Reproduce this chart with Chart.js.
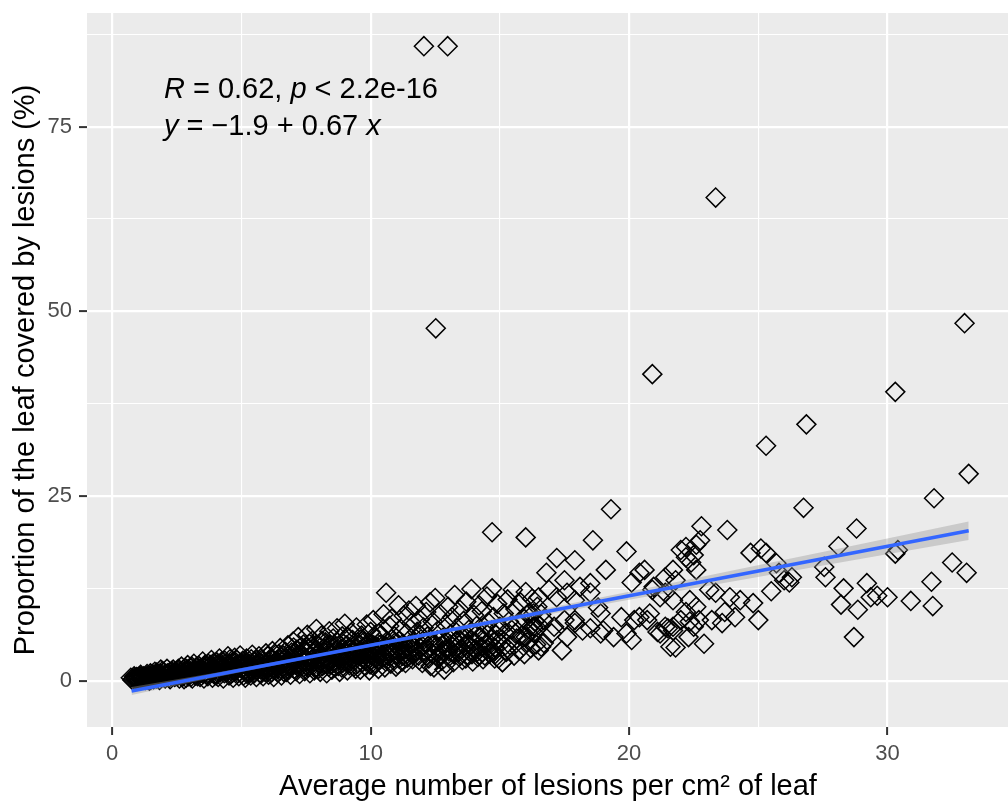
<!DOCTYPE html>
<html>
<head>
<meta charset="utf-8">
<script src="https://cdn.jsdelivr.net/npm/chart.js@4.4.1/dist/chart.umd.min.js"></script>
<style>
  html, body { margin: 0; padding: 0; background: #ffffff; overflow: hidden; }
  canvas { display: block; }
</style>
</head>
<body>
<canvas id="chart" width="1020" height="803"></canvas>
<script>
// values: x = lesions per cm2, y = % of leaf covered
const bandLow = [
  [0.72,0.4],[0.78,0.1],[0.82,0.3],[0.85,0.6],[0.9,0.2],[0.95,0.5],[0.98,0.0],[1.02,0.5],[1.05,0.1],[1.1,0.8],
  [1.14,0.2],[1.18,0.4],[1.22,0.6],[1.28,0.1],[1.32,0.6],[1.35,0.9],[1.4,0.4],[1.44,0.0],[1.48,1.0],[1.52,0.2],
  [1.55,0.9],[1.58,0.7],[1.62,0.4],[1.65,1.2],[1.7,0.3],[1.72,1.1],[1.76,0.9],[1.8,0.6],[1.83,0.1],[1.88,1.5],
  [1.92,0.6],[1.95,1.3],[2.0,1.1],[2.05,0.3],[2.08,0.6],[2.12,1.6],[2.15,1.0],[2.18,0.8],[2.24,0.2],[2.28,0.7],
  [2.3,1.3],[2.36,1.5],[2.4,1.1],[2.42,0.5],[2.5,1.0],[2.52,0.6],[2.56,1.6],[2.6,0.3],[2.64,1.2],[2.68,1.9],
  [2.72,0.5],[2.74,0.8],[2.8,1.3],[2.83,1.7],[2.86,0.4],[2.92,2.1],[2.95,0.6],[2.98,1.0],[3.02,1.3],[3.05,1.7],
  [3.1,0.3],[3.14,1.0],[3.16,2.3],[3.22,0.7],[3.25,1.8],[3.28,1.4],[3.32,0.9],[3.35,2.0],[3.4,0.5]
];
const bandMid = [
  [3.45,1.1],[3.48,1.5],[3.5,2.6],[3.55,0.3],[3.58,2.1],[3.6,1.7],[3.66,0.8],[3.7,0.6],[3.72,2.3],[3.78,1.3],
  [3.82,1.6],[3.84,2.8],[3.88,0.4],[3.92,2.4],[3.94,1.9],[4.0,1.0],[4.02,0.7],[4.05,2.5],[4.1,0.5],[4.12,1.9],
  [4.15,3.0],[4.2,1.5],[4.24,2.6],[4.26,2.1],[4.3,0.3],[4.34,1.0],[4.36,2.7],[4.42,1.2],[4.46,2.0],[4.48,3.3],
  [4.52,0.7],[4.56,2.9],[4.58,1.8],[4.62,2.4],[4.66,1.1],[4.68,0.4],[4.74,3.1],[4.78,2.5],[4.8,1.4],[4.85,2.2],
  [4.88,1.7],[4.9,0.6],[4.95,3.4],[4.98,2.1],[5.0,1.0],[5.05,2.7],[5.08,0.7],[5.1,1.8],[5.15,0.4],[5.18,2.4],
  [5.2,3.0],[5.25,1.3],[5.28,1.7],[5.3,2.3],[5.36,0.7],[5.38,2.9],[5.42,3.5],[5.48,1.6],[5.5,1.0],[5.52,2.6],
  [5.58,0.5],[5.6,1.4],[5.62,2.0],[5.68,3.3],[5.7,2.4],[5.72,1.1],[5.78,2.8],[5.82,1.9],[5.84,0.6],[5.9,1.7],
  [5.92,1.2],[5.95,3.7],[6.0,2.3],[6.02,3.3],[6.05,0.8],[6.1,1.4],[6.12,2.2],[6.15,3.1],[6.2,4.0],[6.22,1.6],
  [6.25,0.5],[6.3,2.0],[6.32,3.5],[6.35,2.7],[6.4,1.1]
];
const bandHigh = [
  [6.45,3.6],[6.48,1.4],[6.5,4.4],[6.55,0.7],[6.58,2.5],[6.6,1.8],[6.65,2.9],[6.68,1.7],[6.7,3.9],[6.75,1.2],
  [6.78,3.3],[6.8,4.8],[6.85,2.4],[6.88,1.9],[6.9,0.8],[6.95,3.3],[6.98,2.6],[7.0,5.3],[7.05,1.6],[7.08,3.8],
  [7.1,2.7],[7.15,4.2],[7.18,1.9],[7.2,5.9],[7.25,0.9],[7.28,3.1],[7.3,3.6],[7.35,2.1],[7.38,2.6],[7.4,4.9],
  [7.45,1.3],[7.48,4.1],[7.5,3.0],[7.55,6.2],[7.58,1.8],[7.6,4.4],[7.65,1.0],[7.68,3.3],[7.7,2.5],[7.75,5.4],
  [7.78,2.1],[7.8,3.7],[7.85,1.7],[7.88,4.2],[7.9,7.0],[7.95,2.9],[7.98,1.6],[8.0,4.7],[8.05,1.2],[8.08,2.7],
  [8.1,6.1],[8.15,3.4],[8.18,4.4],[8.2,2.2],[8.25,5.2],[8.28,3.0],[8.3,1.0],[8.35,4.0],[8.38,1.9],[8.4,6.7],
  [8.45,2.7],[8.48,3.6],[8.5,1.5],[8.55,5.7],[8.58,2.4],[8.6,3.2],[8.65,4.6],[8.68,4.1],[8.7,7.1],[8.75,2.0],
  [8.78,2.9],[8.8,1.2],[8.85,3.8],[8.88,1.8],[8.9,6.0],[8.95,5.0],[8.98,3.4],[9.0,7.7],[9.05,2.6],[9.08,4.8],
  [9.1,1.4],[9.15,4.4],[9.18,2.1],[9.2,3.1],[9.25,6.5],[9.28,3.9],[9.3,5.5],[9.35,1.9],[9.38,2.8],[9.4,3.6],
  [9.45,7.2],[9.48,4.4],[9.5,2.3],[9.55,4.9],[9.58,3.3],[9.6,1.5],[9.65,6.1],[9.68,2.5],[9.7,3.0],[9.75,5.3],
  [9.78,4.5],[9.8,2.0],[9.85,7.6],[9.88,3.1],[9.9,4.1],[9.95,1.4],[9.98,2.2],[10.0,6.6],[10.05,3.4],[10.08,4.0],
  [10.1,8.2],[10.15,2.4],[10.18,3.0],[10.2,5.7],[10.25,4.6],[10.28,5.0],[10.3,1.6]
];
// further passes over the dark band, where the diamonds overlap into solid black
const bandFill = [
  [0.88,0.4],[1.0,0.3],[1.12,0.5],[1.25,0.3],[1.38,0.2],[1.5,0.6],[1.6,0.2],[1.68,0.8],[1.78,0.4],[1.86,1.0],
  [1.98,0.5],[2.1,0.9],[2.2,0.4],[2.33,1.0],[2.46,0.8],[2.58,1.3],[2.7,1.0],[2.78,0.2],[2.9,1.5],[3.0,0.8],
  [3.08,1.9],[3.2,1.2],[3.3,0.6],[3.38,1.6],
  [3.52,0.9],[3.62,1.2],[3.75,1.9],[3.86,1.1],[3.97,1.5],[4.07,2.2],[4.18,1.1],[4.28,1.7],[4.4,2.3],[4.5,1.4],
  [4.6,0.9],[4.72,1.9],[4.82,2.8],[4.92,1.2],[5.02,1.6],[5.12,2.2],[5.22,0.9],[5.32,2.0],[5.44,1.3],[5.55,2.2],
  [5.65,1.7],[5.75,0.9],[5.86,2.4],[5.97,1.5],[6.07,2.7],[6.17,1.1],[6.27,2.4],[6.38,1.8],
  [6.52,2.1],[6.62,3.4],[6.72,2.2],[6.82,1.5],[6.92,2.9],[7.02,4.5],[7.12,1.3],[7.22,2.4],[7.32,4.6],[7.42,3.3],
  [7.52,2.0],[7.62,5.0],[7.72,2.8],[7.82,1.4],[7.92,3.6],[8.02,2.4],[8.12,5.4],[8.22,3.8],[8.32,2.3],[8.42,4.9],
  [8.52,3.0],[8.62,1.8],[8.72,5.2],[8.82,3.3],[8.92,2.4],[9.02,4.0],[9.12,5.9],[9.22,2.6],[9.32,4.6],[9.42,1.6],
  [9.52,3.8],[9.62,5.6],[9.72,4.0],[9.82,2.6],[9.92,5.0],[10.02,2.8],[10.12,4.8],[10.22,3.6],[10.32,6.4],
  [10.38,4.9],[10.52,3.2],[10.66,4.0],[10.8,5.6],[10.95,4.2],[11.1,3.0],[11.25,5.0],[11.4,3.6],[11.6,4.9],[11.78,3.9],
  [11.92,6.2],[12.08,5.2],[12.22,4.3],[12.4,3.6],[12.58,5.5],[12.72,3.6],[12.88,5.0],[13.02,4.0],[13.18,5.8],[13.32,4.5],
  [13.48,3.4],[13.62,6.0],[13.78,4.9],[13.92,3.6],[14.08,6.2],[14.22,3.5],[14.38,5.4],[14.52,4.2],[14.68,6.8],[14.82,3.6]
];
const bandCore = [
  [1.08,0.6],[1.3,0.4],[1.46,0.7],[1.66,0.6],[1.84,0.8],[2.02,0.8],[2.22,1.1],[2.38,0.7],[2.54,1.0],[2.66,0.7],
  [2.88,1.1],[3.04,0.5],[3.18,1.5],[3.36,1.2],[3.54,1.9],[3.68,1.0],[3.8,2.1],[3.96,0.8],[4.08,1.4],[4.22,2.0],
  [4.38,1.5],[4.54,2.2],[4.7,1.5],[4.86,1.0],[5.0,2.4],[5.14,1.4],[5.3,1.1],[5.46,2.0],[5.6,2.8],[5.76,1.5],
  [5.9,2.1],[6.04,1.8],[6.2,2.9],[6.34,1.4],[6.5,2.8],[6.64,1.2],[6.8,2.0],[6.94,3.8],[7.1,2.2],[7.24,3.4],
  [7.4,1.8],[7.54,3.8],[7.7,4.6],[7.84,2.6],[8.0,3.2],[8.14,2.0],[8.3,4.4],[8.44,2.2],[8.6,4.0],[8.76,3.6],
  [8.9,2.9],[9.06,3.6],[9.2,4.2],[9.36,3.2],[9.5,5.2],[9.66,3.6],[9.8,4.8],[9.96,3.6],[10.1,2.0],[10.26,4.2],
  [10.44,3.0],[10.6,4.6],[10.76,3.7],[10.92,5.1],[11.08,4.4],[11.24,3.4],[11.44,4.6],[11.62,3.5]
];
const spreadPts = [
  [10.35,2.8],[10.4,6.2],[10.42,3.5],[10.45,4.1],[10.5,9.0],[10.55,1.8],[10.58,2.6],[10.6,11.9],[10.62,5.3],[10.68,3.4],
  [10.72,7.4],[10.75,4.4],[10.78,2.3],[10.82,8.4],[10.88,4.7],[10.9,3.0],[10.92,6.0],[10.98,1.9],[11.02,3.6],[11.05,2.2],
  [11.08,10.2],[11.12,5.4],[11.18,7.0],[11.2,4.0],[11.22,2.6],[11.28,8.8],[11.32,4.2],[11.35,2.4],[11.38,6.4],[11.42,3.1],
  [11.48,9.5],[11.52,5.0],[11.55,3.8],[11.58,7.8],[11.62,2.9],[11.68,4.5],[11.7,5.2],[11.75,10.1],[11.8,6.6],[11.85,3.4],
  [11.88,2.8],[11.9,8.3],[11.95,5.6],[12.0,2.4],[12.02,4.6],[12.05,7.2],[12.1,4.0],[12.15,9.3],[12.18,3.4],[12.2,6.0],
  [12.25,3.0],[12.3,10.6],[12.32,2.0],[12.35,5.1],[12.4,8.0],[12.45,1.8],[12.48,4.9],[12.5,11.2],[12.55,3.8],[12.6,6.8],
  [12.62,3.0],[12.65,4.6],[12.7,9.0],[12.75,2.7],[12.78,4.0],[12.8,5.8],[12.85,1.5],[12.9,7.6],[12.92,2.3],[12.95,4.2],
  [13.0,10.0],[13.05,3.3],[13.08,4.9],[13.1,6.3],[13.15,8.6],[13.2,2.5],[13.22,3.6],[13.25,11.6],[13.3,5.2],[13.35,7.1],
  [13.38,5.6],[13.4,3.9],[13.45,9.6],[13.5,6.0],[13.52,4.3],[13.55,2.8],[13.6,8.1],[13.65,4.7],[13.68,3.0],[13.7,10.7],
  [13.75,3.5],[13.8,6.9],[13.82,4.0],[13.85,5.5],[13.9,12.4],[13.95,2.6],[13.98,5.2],[14.0,8.9],[14.05,4.3],[14.1,7.4],
  [14.12,3.9],[14.15,3.2],[14.2,10.2],[14.25,5.9],[14.28,4.6],[14.3,9.4],[14.35,2.9],[14.4,6.6],[14.42,3.4],[14.45,4.9],
  [14.5,11.4],[14.55,7.9],[14.58,5.1],[14.6,3.7],[14.65,5.6],[14.7,12.5],[14.72,4.0],[14.75,8.6],[14.8,4.5],[14.85,6.2],
  [14.88,5.5],[14.9,10.4],[14.95,3.0],[15.0,7.3],[15.05,5.1],[15.1,2.5],[15.15,9.1],[15.2,6.4],[15.25,3.9],[15.3,11.0],
  [15.35,8.0],[15.4,4.8],[15.45,6.9],[15.5,12.3],[15.55,3.4],[15.6,9.7],[15.65,5.7],[15.7,7.7],[15.75,4.1],[15.8,10.6],
  [15.85,6.1],[15.9,8.5],[15.95,3.6],[16.0,12.0],[16.05,5.2],[16.1,7.0],[16.15,9.2],[16.2,4.4],[16.25,11.1],[16.3,6.5],
  [16.35,8.0],[16.4,4.9],[16.45,10.0],[16.5,4.1],[16.55,7.4],[16.6,9.0]
];
const sparsePts = [
  [14.7,20.1],[16.0,19.4],[18.6,19.0],[19.3,23.2],[19.9,17.5],[17.2,16.6],[17.9,16.3],[19.1,15.0],[16.8,14.6],
  [20.1,13.3],[20.4,14.6],[20.6,15.0],[17.5,13.6],[18.5,13.2],[18.1,12.7],[17.6,11.9],
  [22.0,17.7],[22.2,18.1],[22.2,16.7],[22.4,16.0],[22.5,17.0],[22.6,15.0],[22.6,18.4],[22.75,19.0],[22.8,20.9],
  [21.7,15.0],[21.4,14.0],[21.8,13.6],[20.9,12.3],[18.9,9.1],[18.8,9.9],[19.7,8.6],[20.2,8.2],[20.4,8.6],[20.7,8.2],
  [19.9,6.4],[20.1,5.5],[19.4,5.9],[19.0,6.8],[17.9,7.8],[17.6,5.9],[17.0,6.4],[16.6,4.6],[17.4,4.1],
  [21.2,6.4],[21.7,6.8],[21.8,4.5],[22.3,5.9],[22.9,5.0],[22.6,10.0],[22.7,8.2],[22.2,9.3],[22.35,8.0],[21.4,7.3],
  [16.3,9.1],[16.3,7.3],[16.7,8.2],[17.1,7.3],[17.5,8.2],[17.9,10.9],[18.5,11.9],[16.9,12.3],[17.2,11.3],[16.5,11.3],
  [21.6,4.6],[21.5,7.1],[21.1,6.6],[21.4,11.9],[21.7,10.9],[20.95,12.7],[21.2,11.3],[20.8,9.1],[22.0,8.2],[21.7,7.3],
  [18.9,6.4],[18.5,7.1],[18.2,6.8],[17.9,8.2],[16.7,5.1],[16.0,5.9],[15.6,6.4],[15.1,2.5],[14.8,3.0],[15.2,4.1],
  [16.1,9.1],[16.4,7.3],
  [23.35,11.9],[23.9,11.3],[24.3,10.9],[23.7,9.3],[24.1,8.6],[23.6,7.8],[23.2,8.2],[22.5,7.3],[22.35,10.9],[23.1,12.3],
  [23.8,20.4],[24.7,17.3],[25.1,17.9],[25.3,17.3],[25.7,15.9],[25.8,14.6],[26.0,13.6],[26.2,13.3],[26.3,14.0],
  [25.5,12.1],[25.0,8.2],[24.8,10.5],[27.55,15.4],[27.6,14.0],[28.1,18.2],[28.8,20.6],
  [28.3,12.5],[28.2,10.3],[28.85,9.6],[29.2,13.2],[29.35,11.3],[29.6,11.5],[30.0,11.3],[28.7,5.9],
  [30.3,17.2],[30.4,17.7],[30.9,10.8],[31.7,13.4],[31.75,10.1],[32.5,16.0],[33.06,14.6]
];
const outlierPts = [
  [31.8,24.7],[33.14,28.0],[26.75,23.4],[25.3,31.8],[26.86,34.7],[30.3,39.1],[32.98,48.4],
  [23.35,65.4],[20.9,41.5],[12.06,85.9],[12.98,85.9],[12.52,47.7]
];

// lm fit (y = -1.9 + 0.67 x) and its confidence band, read at a few x positions
const fitX = [0.75, 33.14];
const fitY = [-1.4, 20.3];
const ribbonX = [0.75, 4, 8, 12, 16, 20, 24, 28, 33.14];
const ribbonLow = [-1.95, 0.48, 3.26, 5.89, 8.42, 10.95, 13.43, 15.91, 19.05];
const ribbonHigh = [-0.85, 1.08, 3.66, 6.39, 9.22, 12.05, 14.93, 17.81, 21.55];

const xTicks = [0, 10, 20, 30];
const yTicks = [0, 25, 50, 75];

const FONT = "'Liberation Sans', Arial, sans-serif";

const toXY = (xs, ys) => xs.map((x, i) => ({ x: x, y: ys[i] }));
const points = [...bandLow, ...bandMid, ...bandHigh, ...bandFill, ...bandCore, ...spreadPts, ...sparsePts, ...outlierPts]
  .map(([x, y]) => ({ x: x, y: y }));

const panelBg = {
  id: "panelBg",
  beforeDraw: (chart) => {
    const { ctx, chartArea } = chart;
    ctx.save();
    ctx.fillStyle = "#EBEBEB";
    ctx.fillRect(chartArea.left, chartArea.top, chartArea.right - chartArea.left, chartArea.bottom - chartArea.top);
    ctx.restore();
  }
};

// R / equation labels, italic for the variable names
const drawRich = (ctx, x, y, parts) => {
  parts.forEach(([text, italic]) => {
    ctx.font = (italic ? "italic " : "") + "29px " + FONT;
    ctx.fillText(text, x, y);
    x += ctx.measureText(text).width;
  });
};

const statLabels = {
  id: "statLabels",
  afterDraw: (chart) => {
    const { ctx, scales } = chart;
    ctx.save();
    ctx.fillStyle = "#000000";
    ctx.textBaseline = "middle";
    const x0 = scales.x.getPixelForValue(2);
    drawRich(ctx, x0, scales.y.getPixelForValue(80), [["R", true], [" = 0.62, ", false], ["p", true], [" < 2.2e-16", false]]);
    drawRich(ctx, x0, scales.y.getPixelForValue(75), [["y", true], [" = \u22121.9 + 0.67 ", false], ["x", true]]);
    ctx.restore();
  }
};

const gridWidth = (ticks) => (c) => (c.tick && ticks.includes(c.tick.value) ? 2.2 : 1.1);
const tickColor = (ticks) => (c) => (c.tick && ticks.includes(c.tick.value) ? "#333333" : "rgba(0,0,0,0)");

const chart = new Chart(document.getElementById("chart"), {
  type: "scatter",
  data: {
    datasets: [
      {
        data: toXY(fitX, fitY),
        showLine: true,
        borderColor: "#3366FF",
        borderWidth: 3.5,
        pointRadius: 0,
        fill: false,
        order: 0
      },
      {
        data: toXY(ribbonX, ribbonLow),
        showLine: true,
        borderColor: "rgba(0,0,0,0)",
        borderWidth: 0,
        pointRadius: 0,
        fill: false,
        order: 1
      },
      {
        data: toXY(ribbonX, ribbonHigh),
        showLine: true,
        borderColor: "rgba(0,0,0,0)",
        borderWidth: 0,
        pointRadius: 0,
        fill: "-1",
        backgroundColor: "rgba(153,153,153,0.4)",
        order: 1
      },
      {
        data: points,
        pointStyle: "rectRot",
        pointRadius: 9.5,
        pointHoverRadius: 9.5,
        borderColor: "#000000",
        borderWidth: 1.5,
        backgroundColor: "rgba(0,0,0,0)",
        order: 3
      }
    ]
  },
  options: {
    responsive: false,
    animation: false,
    events: [],
    layout: { padding: { top: 13, left: 0, right: 0, bottom: 0 } },
    plugins: {
      legend: { display: false },
      tooltip: { enabled: false }
    },
    scales: {
      x: {
        type: "linear",
        min: -0.975,
        max: 34.7,
        border: { display: false },
        grid: { color: "#FFFFFF", lineWidth: gridWidth(xTicks), tickColor: tickColor(xTicks), tickWidth: 2, tickLength: 8 },
        ticks: {
          stepSize: 5,
          includeBounds: false,
          autoSkip: false,
          maxRotation: 0,
          padding: 6,
          color: "#4D4D4D",
          font: { family: FONT, size: 22 },
          callback: (v) => (xTicks.includes(v) ? String(v) : "")
        },
        title: {
          display: true,
          text: "Average number of lesions per cm\u00b2 of leaf",
          color: "#000000",
          font: { family: FONT, size: 29, lineHeight: 1 },
          padding: { top: 0, bottom: 2 }
        },
        afterFit: (s) => { s.height = 76; s.paddingLeft = 0; s.paddingRight = 0; }
      },
      y: {
        type: "linear",
        min: -6.27,
        max: 90.39,
        border: { display: false },
        grid: { color: "#FFFFFF", lineWidth: gridWidth(yTicks), tickColor: tickColor(yTicks), tickWidth: 2, tickLength: 8 },
        ticks: {
          stepSize: 12.5,
          includeBounds: false,
          autoSkip: false,
          padding: 7,
          color: "#4D4D4D",
          font: { family: FONT, size: 22 },
          callback: (v) => (yTicks.includes(v) ? String(v) : "")
        },
        title: {
          display: true,
          text: "Proportion of the leaf covered by lesions (%)",
          color: "#000000",
          font: { family: FONT, size: 29, lineHeight: 1 },
          padding: { top: 11, bottom: 0 }
        },
        afterFit: (s) => { s.width = 87; s.paddingTop = 0; s.paddingBottom = 0; }
      }
    }
  },
  plugins: [panelBg, statLabels]
});
</script>
</body>
</html>
